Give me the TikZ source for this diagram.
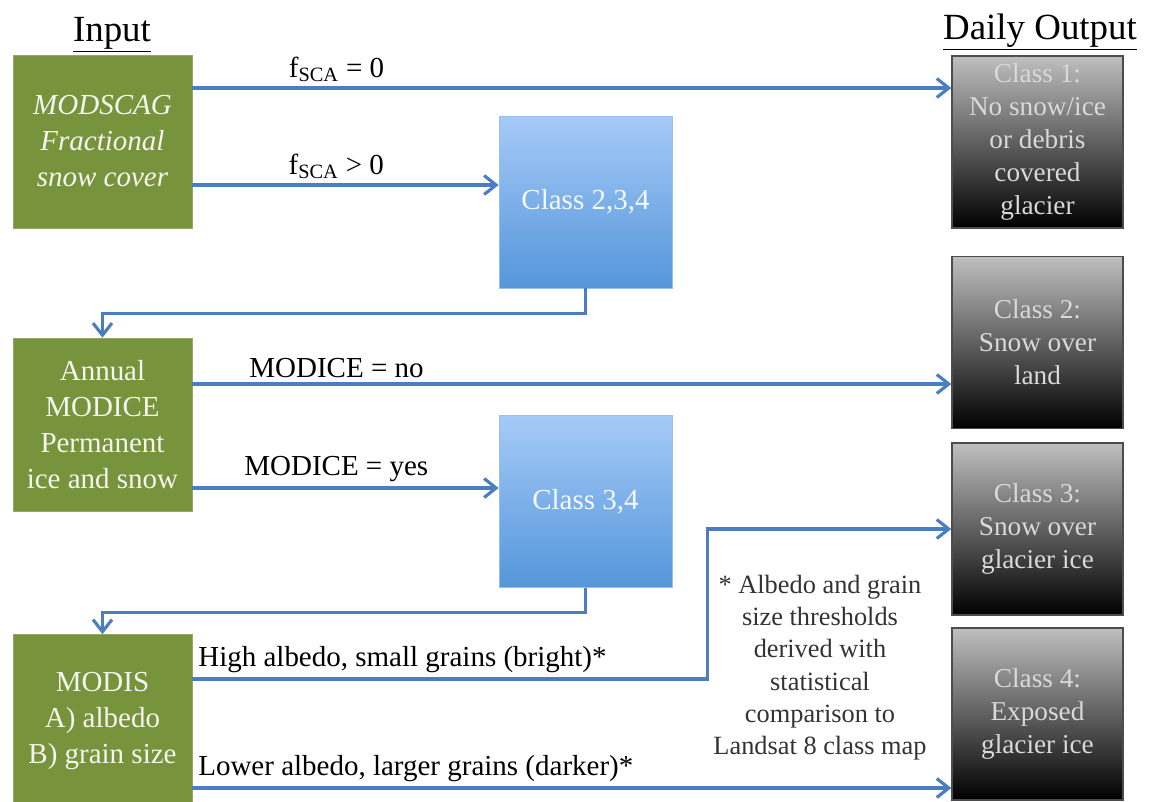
\documentclass[tikz,border=0pt]{standalone}
\usepackage{fontspec}
\setmainfont{Liberation Serif}
\usetikzlibrary{arrows.meta}
\definecolor{inputgreen}{RGB}{119,147,60}
\definecolor{flowblue}{RGB}{74,126,193}
\definecolor{classtop}{RGB}{166,202,248}
\definecolor{classbot}{RGB}{84,150,218}

\begin{document}
\begin{tikzpicture}[
        inbox/.style = {draw=inputgreen!80!white, fill=inputgreen, minimum width=3.58cm, minimum height=3.46cm, inner sep=0pt, align=center, text=white!92!inputgreen, font=\fontsize{16.5}{20.5}\selectfont},
        classbox/.style = {draw=classbot!60!white, top color=classtop, bottom color=classbot, minimum width=3.46cm, minimum height=3.44cm, inner sep=0pt, align=center, text=white!88!classtop, font=\fontsize{16.5}{20}\selectfont},
        outbox/.style = {draw=black!70, line width=0.8pt, top color=black!25, bottom color=black, minimum width=3.42cm, minimum height=3.44cm, inner sep=0pt, align=center, text=black!15, font=\fontsize{15.5}{18.8}\selectfont},
        flow/.style = {-{Straight Barb[length=2.4mm, width=3.8mm]}, draw=flowblue, line width=1.8pt},
        lbl/.style = {font=\fontsize{16.5}{20}\selectfont, inner sep=2.5pt},
        head/.style = {font=\fontsize{21}{25}\selectfont, anchor=base}
    ]
        \useasboundingbox (0,0) rectangle (23.02,-16.04);

        \node[head] (input) at (2.24,-0.82) {\underline{Input}};
        \node[head] (output) at (20.8,-0.78) {\underline{Daily Output}};

        \node[inbox] (modscag) at (2.05,-2.83) {\itshape MODSCAG\\ \itshape Fractional\\ \itshape snow cover};
        \node[inbox] (modice) at (2.05,-8.49) {Annual\\ MODICE\\ Permanent\\ ice and snow};
        \node[inbox] (modis) at (2.05,-14.42) {MODIS\\ A) albedo\\ B) grain size};

        \node[classbox] (c234) at (11.71,-4.04) {Class 2,3,4};
        \node[classbox] (c34) at (11.71,-10.03) {Class 3,4};

        \node[outbox] (out1) at (20.75,-2.84) {Class 1:\\ No snow/ice\\ or debris\\ covered\\ glacier};
        \node[outbox] (out2) at (20.75,-6.85) {Class 2:\\ Snow over\\ land};
        \node[outbox] (out3) at (20.75,-10.58) {Class 3:\\ Snow over\\ glacier ice};
        \node[outbox] (out4) at (20.75,-14.28) {Class 4:\\ Exposed\\ glacier ice};

        \node[align=center, text=black!80, font=\fontsize{15}{18.4}\selectfont] (note) at (16.4,-13.35) {* Albedo and grain\\ size thresholds\\ derived with\\ statistical\\ comparison to\\ Landsat 8 class map};

        \draw[flow] ([yshift=1.07cm]modscag.east) -- node[lbl, above, pos=0.19] (fzero) {f\textsubscript{SCA} = 0} ([yshift=1.07cm]modscag.east -| out1.west);
        \draw[flow] ([yshift=-0.87cm]modscag.east) -- node[lbl, above, pos=0.47] (fpos) {f\textsubscript{SCA} > 0} ([yshift=-0.87cm]modscag.east -| c234.west);
        \draw[flow] (c234.south) -- ++(0,-0.5) -| (modice.north);

        \draw[flow] ([yshift=0.81cm]modice.east) -- node[lbl, above, pos=0.19] (ino) {MODICE = no} ([yshift=0.81cm]modice.east -| out2.west);
        \draw[flow] ([yshift=-1.27cm]modice.east) -- node[lbl, above, pos=0.47] (iyes) {MODICE = yes} ([yshift=-1.27cm]modice.east -| c34.west);
        \draw[flow] (c34.south) -- ++(0,-0.5) -| (modis.north);

        \draw[flow] ([yshift=0.84cm]modis.east) -- node[lbl, above right, pos=0] (bright) {High albedo, small grains (bright)*} ++(10.3,0) |- (out3.west);
        \draw[flow] ([yshift=-1.34cm]modis.east) -- node[lbl, above right, pos=0] (dark) {Lower albedo, larger grains (darker)*} ([yshift=-1.34cm]modis.east -| out4.west);
\end{tikzpicture}
\end{document}
